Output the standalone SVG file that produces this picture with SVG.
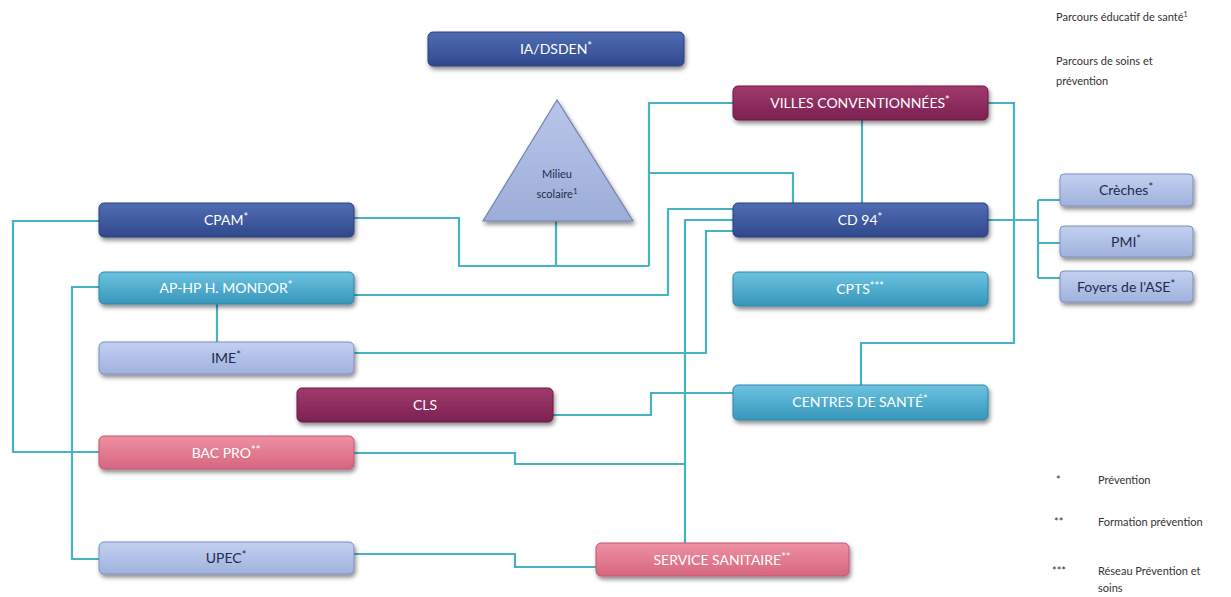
<svg xmlns="http://www.w3.org/2000/svg" width="1231" height="597" viewBox="0 0 1231 597">
<defs>
<linearGradient id="gBlue" x1="0" y1="0" x2="0" y2="1"><stop offset="0" stop-color="#4f6db3"/><stop offset="1" stop-color="#31488c"/></linearGradient>
<linearGradient id="gMaroon" x1="0" y1="0" x2="0" y2="1"><stop offset="0" stop-color="#a13a6c"/><stop offset="1" stop-color="#7c2152"/></linearGradient>
<linearGradient id="gTeal" x1="0" y1="0" x2="0" y2="1"><stop offset="0" stop-color="#6cc3e0"/><stop offset="1" stop-color="#3796bb"/></linearGradient>
<linearGradient id="gLav" x1="0" y1="0" x2="0" y2="1"><stop offset="0" stop-color="#c3d0f0"/><stop offset="1" stop-color="#9fb1dd"/></linearGradient>
<linearGradient id="gPink" x1="0" y1="0" x2="0" y2="1"><stop offset="0" stop-color="#ee90a3"/><stop offset="1" stop-color="#d6667f"/></linearGradient>
<linearGradient id="gTri" x1="0" y1="0" x2="0" y2="1"><stop offset="0" stop-color="#b9c6ea"/><stop offset="1" stop-color="#9cadd8"/></linearGradient>
<filter id="sh" x="-10%" y="-30%" width="120%" height="180%"><feDropShadow dx="1.5" dy="3" stdDeviation="2" flood-color="#000" flood-opacity="0.45"/></filter>
</defs>
<style>
.box{filter:url(#sh);stroke-width:1}
.blue{fill:url(#gBlue);stroke:#2a3f7c}
.maroon{fill:url(#gMaroon);stroke:#6b1a45}
.teal{fill:url(#gTeal);stroke:#2f85a8}
.lav{fill:url(#gLav);stroke:#7d8fbd}
.pink{fill:url(#gPink);stroke:#c2566e}
.t{font-family:Lato,"Open Sans","DejaVu Sans",sans-serif;font-size:14px;text-anchor:middle;fill:#ffffff}
.td{fill:#1f2b4d}
.sup{font-size:11px}
.lg{font-family:Lato,"Open Sans","DejaVu Sans",sans-serif;font-size:11px;fill:#333333}
.c{fill:none;stroke:#45b3c4;stroke-width:2.2}
</style>

<g id="connectors">
<path class="c" d="M354,218 H459 V266 H649"/>
<path class="c" d="M556,220 V266"/>
<path class="c" d="M649,266 V103 H733"/>
<path class="c" d="M649,173 H793 V203"/>
<path class="c" d="M862,120 V203"/>
<path class="c" d="M988,103 H1014 V343 H861 V385"/>
<path class="c" d="M988,220 H1038"/>
<path class="c" d="M1038,200 V278"/>
<path class="c" d="M1038,200 H1060 M1038,243 H1060 M1038,278 H1060"/>
<path class="c" d="M354,295 H668 V209 H733"/>
<path class="c" d="M733,220 H685 V543"/>
<path class="c" d="M354,353 H706 V231 H733"/>
<path class="c" d="M553,415 H651 V393 H733"/>
<path class="c" d="M354,453 H515 V464 H685"/>
<path class="c" d="M217,304 V342"/>
<path class="c" d="M99,221 H13 V452 H99"/>
<path class="c" d="M99,287 H72 V559 H99"/>
<path class="c" d="M354,554 H515 V567 H596"/>
</g>

<g id="ia-dsden"><rect class="box blue" x="428" y="32" width="256" height="34" rx="5"/><text class="t" x="556" y="54">IA/DSDEN<tspan class="sup" dy="-4">*</tspan></text></g>

<g id="milieu-scolaire"><polygon points="557,100 483,221 633,221" fill="url(#gTri)" stroke="#7384b0" stroke-width="1.2" filter="url(#sh)"/>
<text class="t td" x="557" y="178" style="font-size:11px">Milieu</text>
<text class="t td" x="557" y="198" style="font-size:11px">scolaire<tspan dy="-4" style="font-size:8px">1</tspan></text></g>

<g id="villes"><rect class="box maroon" x="733" y="86" width="255" height="34" rx="5"/><text class="t" x="860" y="108">VILLES CONVENTIONNÉES<tspan class="sup" dy="-4">*</tspan></text></g>

<g id="cpam"><rect class="box blue" x="99" y="203" width="255" height="34" rx="5"/><text class="t" x="226" y="225">CPAM<tspan class="sup" dy="-4">*</tspan></text></g>

<g id="cd94"><rect class="box blue" x="733" y="203" width="255" height="34" rx="5"/><text class="t" x="860" y="225">CD 94<tspan class="sup" dy="-4">*</tspan></text></g>

<g id="creches"><rect class="box lav" x="1060" y="174" width="133" height="32" rx="4"/><text class="t td" x="1126" y="195">Crèches<tspan class="sup" dy="-4">*</tspan></text></g>

<g id="pmi"><rect class="box lav" x="1060" y="226" width="133" height="31" rx="4"/><text class="t td" x="1126" y="247">PMI<tspan class="sup" dy="-4">*</tspan></text></g>

<g id="foyers-ase"><rect class="box lav" x="1060" y="271" width="133" height="31" rx="4"/><text class="t td" x="1126" y="292">Foyers de l'ASE<tspan class="sup" dy="-4">*</tspan></text></g>

<g id="ap-hp"><rect class="box teal" x="99" y="272" width="255" height="32" rx="5"/><text class="t" x="226" y="293">AP-HP H. MONDOR<tspan class="sup" dy="-4">*</tspan></text></g>

<g id="cpts"><rect class="box teal" x="733" y="272" width="255" height="34" rx="5"/><text class="t" x="860" y="294">CPTS<tspan class="sup" dy="-4">***</tspan></text></g>

<g id="ime"><rect class="box lav" x="99" y="342" width="255" height="32" rx="5"/><text class="t td" x="226" y="363">IME<tspan class="sup" dy="-4">*</tspan></text></g>

<g id="cls"><rect class="box maroon" x="297" y="388" width="256" height="34" rx="5"/><text class="t" x="425" y="410">CLS</text></g>

<g id="centres-sante"><rect class="box teal" x="733" y="385" width="255" height="35" rx="5"/><text class="t" x="860" y="407">CENTRES DE SANTÉ<tspan class="sup" dy="-4">*</tspan></text></g>

<g id="bac-pro"><rect class="box pink" x="99" y="436" width="255" height="33" rx="5"/><text class="t" x="226" y="458">BAC PRO<tspan class="sup" dy="-4">**</tspan></text></g>

<g id="upec"><rect class="box lav" x="99" y="542" width="255" height="32" rx="5"/><text class="t td" x="226" y="563">UPEC<tspan class="sup" dy="-4">*</tspan></text></g>

<g id="service-sanitaire"><rect class="box pink" x="596" y="543" width="253" height="33" rx="5"/><text class="t" x="722" y="565">SERVICE SANITAIRE<tspan class="sup" dy="-4">**</tspan></text></g>

<g id="legend">
<text class="lg" x="1056" y="21">Parcours éducatif de santé<tspan dy="-4" style="font-size:7px">1</tspan></text>
<text class="lg" x="1056" y="65">Parcours de soins et</text>
<text class="lg" x="1056" y="85">prévention</text>
<text class="lg" x="1056" y="484" style="font-size:11px">*</text>
<text class="lg" x="1098" y="484">Prévention</text>
<text class="lg" x="1054" y="526" style="font-size:11px">**</text>
<text class="lg" x="1098" y="526">Formation prévention</text>
<text class="lg" x="1052" y="575" style="font-size:11px">***</text>
<text class="lg" x="1098" y="575">Réseau Prévention et</text>
<text class="lg" x="1098" y="592">soins</text>
</g>
</svg>
